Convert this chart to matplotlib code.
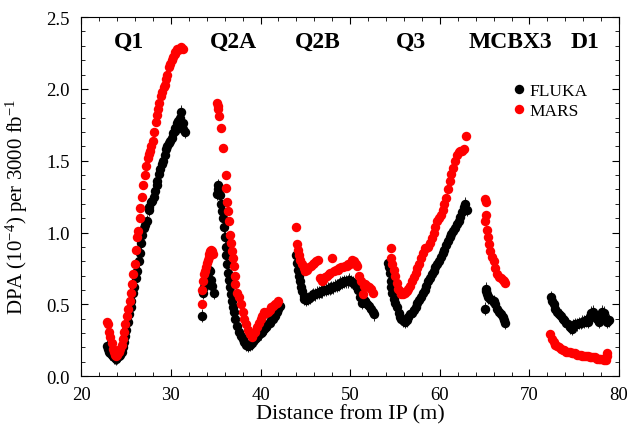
import numpy as np
import matplotlib
matplotlib.use("Agg")
import matplotlib.pyplot as plt
from matplotlib.ticker import MultipleLocator, FormatStrFormatter
from matplotlib.lines import Line2D

plt.rcParams['font.family'] = ['Liberation Serif', 'DejaVu Serif']
plt.rcParams['mathtext.fontset'] = 'custom'
plt.rcParams['mathtext.rm'] = 'Liberation Serif'
plt.rcParams['mathtext.it'] = 'Liberation Serif:italic'

# FLUKA results, magnet by magnet (distance in m, DPA in 1e-4)
fluka_q1_x = [22.9, 23.0, 23.1, 23.2, 23.4, 23.5, 23.6, 23.8, 23.9, 24.0, 24.2, 24.3, 24.5, 24.6,
              24.8, 24.9, 25.0, 25.2, 25.3, 25.5, 25.6, 25.8, 25.9, 26.1, 26.2, 26.4, 26.5, 26.7,
              26.8, 27.0, 27.1, 27.3, 27.5, 27.6, 27.8, 27.9, 28.1, 28.2, 28.4, 28.5, 28.7, 28.8,
              29.0, 29.1, 29.3, 29.5, 29.6, 29.8, 29.9, 30.1, 30.2, 30.4, 30.5, 30.7, 30.8, 31.0,
              31.1, 31.3, 31.4, 31.6]
fluka_q1_y = [0.21, 0.19, 0.17, 0.16, 0.15, 0.14, 0.13, 0.13, 0.12, 0.13, 0.14, 0.15, 0.17, 0.20,
              0.24, 0.28, 0.32, 0.38, 0.43, 0.48, 0.52, 0.58, 0.62, 0.68, 0.73, 0.80, 0.86, 0.93,
              0.98, 1.03, 1.05, 1.08, 1.16, 1.18, 1.21, 1.22, 1.25, 1.29, 1.33, 1.36, 1.41, 1.44,
              1.48, 1.50, 1.54, 1.58, 1.60, 1.62, 1.64, 1.66, 1.69, 1.71, 1.73, 1.76, 1.78, 1.80,
              1.84, 1.76, 1.72, 1.70]

fluka_q2a_x = [33.5, 33.6, 33.7, 33.9, 34.0, 34.1, 34.3, 34.4, 34.5, 34.6, 34.8,
               35.1, 35.2, 35.3, 35.4, 35.5, 35.6, 35.7, 35.8, 35.9, 36.0, 36.1, 36.2, 36.3, 36.4,
               36.5, 36.6, 36.7, 36.8, 36.9, 37.0, 37.2, 37.4, 37.6, 37.8, 38.0, 38.2, 38.4, 38.6,
               38.8, 39.0, 39.2, 39.4, 39.6, 39.8, 40.0, 40.2, 40.4, 40.6, 40.8, 41.0, 41.2, 41.4,
               41.6, 41.8, 42.0, 42.2]
fluka_q2a_y = [0.42, 0.58, 0.62, 0.66, 0.70, 0.72, 0.74, 0.73, 0.67, 0.63, 0.58,
               1.27, 1.30, 1.33, 1.31, 1.26, 1.20, 1.15, 1.10, 1.04, 0.97, 0.90, 0.84, 0.78, 0.72,
               0.67, 0.62, 0.57, 0.52, 0.48, 0.45, 0.40, 0.35, 0.31, 0.28, 0.26, 0.24, 0.22, 0.21,
               0.22, 0.23, 0.25, 0.26, 0.27, 0.29, 0.30, 0.31, 0.33, 0.34, 0.36, 0.37, 0.39, 0.40,
               0.42, 0.45, 0.47, 0.49]

fluka_q2b_x = [44.0, 44.1, 44.2, 44.3, 44.4, 44.5, 44.6, 44.8, 44.9, 45.1, 45.3, 45.5, 45.7, 45.9,
               46.1, 46.3, 46.5, 46.7, 46.9, 47.1, 47.3, 47.5, 47.7, 47.9, 48.1, 48.3, 48.5, 48.7,
               48.9, 49.1, 49.3, 49.5, 49.7, 49.9, 50.1, 50.3, 50.5, 50.7, 50.9, 51.1, 51.3, 51.5,
               51.7, 51.9, 52.1, 52.3, 52.5, 52.6]
fluka_q2b_y = [0.84, 0.79, 0.74, 0.70, 0.66, 0.62, 0.59, 0.56, 0.54, 0.53, 0.54, 0.55, 0.56, 0.57,
               0.57, 0.58, 0.58, 0.59, 0.59, 0.60, 0.60, 0.61, 0.61, 0.62, 0.62, 0.63, 0.63, 0.64,
               0.65, 0.65, 0.66, 0.66, 0.66, 0.67, 0.66, 0.65, 0.64, 0.63, 0.60, 0.55, 0.51, 0.53,
               0.52, 0.50, 0.49, 0.47, 0.45, 0.43]

fluka_q3_x = [54.2, 54.3, 54.4, 54.5, 54.6, 54.7, 54.9, 55.0, 55.2, 55.4, 55.5, 55.7, 55.9, 56.1,
              56.3, 56.5, 56.7, 56.9, 57.1, 57.3, 57.5, 57.7, 57.9, 58.1, 58.3, 58.5, 58.7, 58.9,
              59.1, 59.3, 59.5, 59.7, 59.9, 60.1, 60.3, 60.5, 60.7, 60.9, 61.1, 61.3, 61.5, 61.7,
              61.9, 62.1, 62.3, 62.5, 62.7, 62.8, 63.0]
fluka_q3_y = [0.79, 0.76, 0.72, 0.66, 0.62, 0.58, 0.54, 0.51, 0.48, 0.44, 0.41, 0.40, 0.39, 0.38,
              0.39, 0.41, 0.43, 0.44, 0.46, 0.48, 0.51, 0.53, 0.55, 0.58, 0.60, 0.63, 0.66, 0.68,
              0.71, 0.73, 0.76, 0.78, 0.80, 0.83, 0.86, 0.88, 0.91, 0.94, 0.97, 0.99, 1.01, 1.03,
              1.06, 1.08, 1.11, 1.14, 1.18, 1.20, 1.16]

fluka_mcbx_x = [65.0, 65.1, 65.2, 65.3, 65.4, 65.6, 65.8, 66.0, 66.2, 66.4, 66.6, 66.8, 67.0, 67.2, 67.3]
fluka_mcbx_y = [0.47, 0.61, 0.59, 0.57, 0.55, 0.54, 0.53, 0.52, 0.50, 0.47, 0.45, 0.43, 0.41, 0.39, 0.37]

fluka_d1_x = [72.4, 72.5, 72.7, 72.9, 73.1, 73.3, 73.5, 73.7, 73.9, 74.1, 74.3, 74.5, 74.7, 74.9,
              75.1, 75.3, 75.5, 75.7, 75.9, 76.1, 76.3, 76.5, 76.7, 76.9, 77.1, 77.3, 77.5, 77.7,
              77.9, 78.1, 78.3, 78.5, 78.7, 78.9]
fluka_d1_y = [0.55, 0.52, 0.50, 0.47, 0.45, 0.43, 0.42, 0.40, 0.39, 0.37, 0.36, 0.34, 0.33, 0.35,
              0.36, 0.36, 0.37, 0.37, 0.38, 0.38, 0.39, 0.38, 0.41, 0.44, 0.45, 0.41, 0.40, 0.38,
              0.42, 0.45, 0.44, 0.40, 0.38, 0.39]

# MARS results
mars_q1_x = [22.9, 23.0, 23.1, 23.2, 23.4, 23.5, 23.6, 23.8, 23.9, 24.0, 24.2, 24.3, 24.5, 24.6,
             24.8, 24.9, 25.1, 25.2, 25.4, 25.5, 25.7, 25.8, 26.0, 26.1, 26.2, 26.3, 26.5, 26.6,
             26.8, 26.9, 27.1, 27.2, 27.4, 27.5, 27.7, 27.8, 28.0, 28.1, 28.3, 28.4, 28.6, 28.7,
             28.9, 29.0, 29.2, 29.3, 29.5, 29.6, 29.8, 29.9, 30.1, 30.2, 30.4, 30.5, 30.7, 30.8,
             31.0, 31.1, 31.3]
mars_q1_y = [0.38, 0.36, 0.31, 0.27, 0.23, 0.19, 0.17, 0.15, 0.14, 0.15, 0.17, 0.19, 0.22, 0.26,
             0.31, 0.36, 0.42, 0.47, 0.52, 0.58, 0.64, 0.71, 0.78, 0.88, 0.97, 1.01, 1.10, 1.17,
             1.25, 1.33, 1.40, 1.46, 1.52, 1.55, 1.57, 1.60, 1.64, 1.70, 1.77, 1.82, 1.86, 1.90,
             1.95, 1.98, 2.01, 2.03, 2.07, 2.10, 2.15, 2.17, 2.20, 2.22, 2.24, 2.26, 2.28, 2.27,
             2.28, 2.29, 2.28]

mars_q2a_x = [33.5, 33.5, 33.6, 33.7, 33.8, 33.9, 34.0, 34.1, 34.2, 34.3, 34.4, 34.5, 34.6, 34.7,
              35.1, 35.2, 35.3, 35.4, 35.6, 35.8, 36.1, 36.2, 36.3, 36.4, 36.5, 36.6, 36.7, 36.8,
              36.9, 37.0, 37.1, 37.2, 37.4, 37.6, 37.8, 38.0, 38.2, 38.4, 38.6, 38.8, 39.0, 39.2,
              39.4, 39.6, 39.8, 40.0, 40.2, 40.4, 40.6, 40.8, 41.0, 41.2, 41.4, 41.6, 41.8, 42.0]
mars_q2a_y = [0.50, 0.60, 0.66, 0.71, 0.73, 0.76, 0.79, 0.81, 0.83, 0.85, 0.87, 0.88, 0.87, 0.85,
              1.90, 1.88, 1.86, 1.81, 1.73, 1.59, 1.40, 1.31, 1.21, 1.15, 1.08, 0.98, 0.93, 0.87,
              0.82, 0.77, 0.70, 0.64, 0.58, 0.55, 0.50, 0.45, 0.40, 0.36, 0.32, 0.29, 0.27, 0.29,
              0.31, 0.34, 0.37, 0.40, 0.42, 0.45, 0.44, 0.45, 0.46, 0.48, 0.49, 0.50, 0.51, 0.52]

mars_q2b_x = [44.0, 44.1, 44.2, 44.3, 44.4, 44.6, 44.8, 45.0, 45.2, 45.4, 45.6, 45.8, 46.0, 46.2,
              46.4, 46.6, 46.8, 47.0, 47.2, 47.4, 47.6, 47.8, 48.0, 48.2, 48.4, 48.6, 48.8, 49.0,
              49.2, 49.4, 49.6, 49.8, 50.0, 50.2, 50.4, 50.6, 50.8, 51.0, 51.2, 51.4, 51.5, 51.7,
              51.9, 52.1, 52.3, 52.5]
mars_q2b_y = [1.04, 0.92, 0.88, 0.84, 0.81, 0.78, 0.75, 0.73, 0.74, 0.76, 0.77, 0.78, 0.79, 0.80,
              0.81, 0.68, 0.66, 0.67, 0.69, 0.70, 0.71, 0.72, 0.82, 0.73, 0.74, 0.74, 0.75, 0.76,
              0.76, 0.77, 0.77, 0.78, 0.78, 0.81, 0.80, 0.78, 0.77, 0.70, 0.66, 0.57, 0.63, 0.64,
              0.63, 0.62, 0.61, 0.58]

mars_q3_x = [54.6, 54.6, 54.7, 54.9, 55.0, 55.2, 55.3, 55.5, 55.7, 55.9, 56.1, 56.3, 56.5, 56.7,
             56.9, 57.1, 57.3, 57.5, 57.7, 57.9, 58.1, 58.3, 58.5, 58.7, 58.9, 59.1, 59.3, 59.5,
             59.7, 59.9, 60.1, 60.3, 60.5, 60.7, 60.9, 61.1, 61.3, 61.5, 61.7, 61.9, 62.1, 62.3,
             62.5, 62.7, 62.9]
mars_q3_y = [0.89, 0.82, 0.78, 0.74, 0.70, 0.65, 0.61, 0.59, 0.57, 0.57, 0.58, 0.59, 0.61, 0.63,
             0.66, 0.69, 0.72, 0.75, 0.78, 0.82, 0.86, 0.89, 0.89, 0.90, 0.93, 0.96, 1.00, 1.04,
             1.08, 1.10, 1.12, 1.16, 1.20, 1.24, 1.30, 1.36, 1.41, 1.45, 1.50, 1.54, 1.56, 1.57,
             1.57, 1.58, 1.67]

mars_mcbx_x = [65.0, 65.1, 65.0, 65.2, 65.3, 65.4, 65.5, 65.6, 65.8, 66.0, 66.2, 66.4, 66.6, 66.8,
               67.0, 67.2, 67.3]
mars_mcbx_y = [1.23, 1.21, 1.08, 1.12, 1.02, 0.97, 0.92, 0.87, 0.83, 0.80, 0.75, 0.71, 0.69, 0.68,
               0.67, 0.66, 0.65]

mars_d1_x = [72.3, 72.5, 72.7, 72.9, 73.1, 73.3, 73.5, 73.7, 73.9, 74.1, 74.3, 74.5, 74.7, 74.9,
             75.1, 75.3, 75.5, 75.7, 75.9, 76.1, 76.3, 76.5, 76.7, 76.9, 77.1, 77.3, 77.5, 77.7,
             77.9, 78.1, 78.3, 78.5, 78.6, 78.7]
mars_d1_y = [0.29, 0.26, 0.24, 0.22, 0.21, 0.20, 0.19, 0.18, 0.18, 0.17, 0.17, 0.17, 0.16, 0.16,
             0.16, 0.15, 0.15, 0.15, 0.14, 0.14, 0.14, 0.14, 0.13, 0.13, 0.13, 0.13, 0.12, 0.12,
             0.12, 0.12, 0.11, 0.11, 0.14, 0.16]

# magnet names along the top
magnets = ['Q1', 'Q2A', 'Q2B', 'Q3', 'MCBX3', 'D1']
magnet_pos = [25.3, 37.0, 46.4, 56.75, 67.9, 76.2]

fluka_x = fluka_q1_x + fluka_q2a_x + fluka_q2b_x + fluka_q3_x + fluka_mcbx_x + fluka_d1_x
fluka_y = fluka_q1_y + fluka_q2a_y + fluka_q2b_y + fluka_q3_y + fluka_mcbx_y + fluka_d1_y
mars_x = mars_q1_x + mars_q2a_x + mars_q2b_x + mars_q3_x + mars_mcbx_x + mars_d1_x
mars_y = mars_q1_y + mars_q2a_y + mars_q2b_y + mars_q3_y + mars_mcbx_y + mars_d1_y

fig = plt.figure(figsize=(6.35, 4.31), dpi=100)
ax = fig.add_axes([0.128, 0.125, 0.847, 0.833])

ms = 6.8
ax.errorbar(fluka_x, fluka_y, yerr=0.045, fmt='o', color='black', ms=ms, mew=0,
            elinewidth=0.6, zorder=2)
ax.plot(mars_x, mars_y, 'o', color='#ff0000', ms=ms, mew=0, zorder=3)

for name, xpos in zip(magnets, magnet_pos):
    ax.text(xpos, 2.33, name, ha='center', va='center', fontsize=17, fontweight='bold')

ax.set_xlim(20, 80)
ax.set_ylim(0, 2.5)
ax.xaxis.set_major_locator(MultipleLocator(10))
ax.xaxis.set_minor_locator(MultipleLocator(2))
ax.yaxis.set_major_locator(MultipleLocator(0.5))
ax.yaxis.set_minor_locator(MultipleLocator(0.1))
ax.yaxis.set_major_formatter(FormatStrFormatter('%.1f'))
ax.tick_params(which='both', direction='in', top=True, right=True, labelsize=13.5)
ax.tick_params(axis='x', which='major', pad=7)
ax.tick_params(axis='y', which='major', pad=8.5)
ax.tick_params(which='major', length=5, width=0.8)
ax.tick_params(which='minor', length=3, width=0.6)
for s in ax.spines.values():
    s.set_linewidth(0.8)

ax.set_xlabel('Distance from IP (m)', fontsize=16, labelpad=1)
ax.set_ylabel('DPA (10$^{-4}$) per 3000 fb$^{-1}$', fontsize=15)
ax.yaxis.set_label_coords(-0.095, 0.474)

handles = [Line2D([], [], ls='none', marker='o', color='black', ms=ms, mew=0),
           Line2D([], [], ls='none', marker='o', color='#ff0000', ms=ms, mew=0)]
ax.legend(handles, ['FLUKA', 'MARS'], loc='upper left', bbox_to_anchor=(0.781, 0.836),
          frameon=False, fontsize=12.5, handletextpad=0.0, labelspacing=0.2,
          borderaxespad=0, handlelength=1.2)

fig.savefig('out.png', dpi=100)
